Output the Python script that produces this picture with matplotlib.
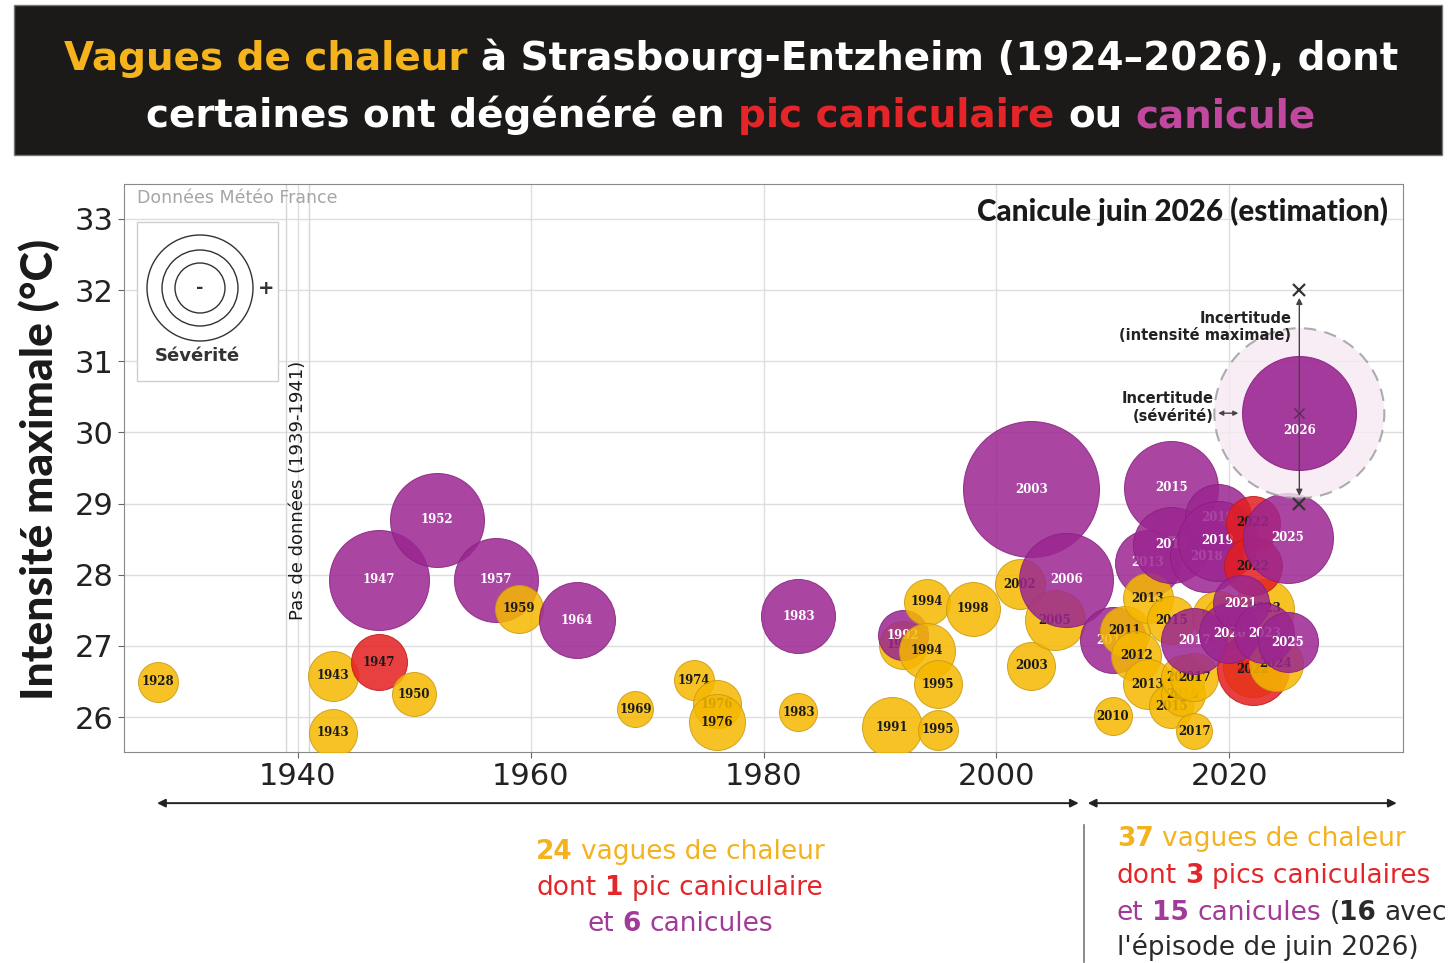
import matplotlib
matplotlib.use("Agg")
import matplotlib.pyplot as plt
from matplotlib.patches import Rectangle, Circle
from matplotlib.lines import Line2D

# Données : année, intensité maximale (°C), sévérité (taille de bulle), type
# V = vague de chaleur, P = pic caniculaire, C = canicule
# (l'ordre de la liste est l'ordre de tracé)
annees = [1928, 1943, 1943, 1947, 1947, 1950, 1952, 1957, 1959, 1964,
          1969, 1974, 1976, 1976, 1983, 1983, 1991, 1992, 1992, 1994,
          1994, 1995, 1995, 1998, 2002, 2003, 2003, 2005, 2006, 2010,
          2010, 2011, 2012, 2013, 2013, 2013, 2015, 2015, 2015, 2015,
          2016, 2016, 2017, 2017, 2019, 2020, 2023, 2017, 2018, 2019,
          2019, 2022, 2022, 2022, 2022, 2024, 2020, 2021, 2023, 2025,
          2025]
intensite = [26.50, 26.58, 25.78, 27.93, 26.77, 26.32, 28.77, 27.93, 27.52, 27.36,
             26.11, 26.52, 26.18, 25.93, 27.42, 26.07, 25.86, 27.02, 27.15, 27.62,
             26.93, 26.46, 25.82, 27.52, 27.87, 29.20, 26.72, 27.36, 27.93, 27.08,
             26.01, 27.21, 26.86, 28.17, 27.67, 26.46, 29.22, 28.42, 27.36, 26.15,
             26.32, 26.56, 26.56, 25.80, 27.40, 27.33, 27.52, 27.07, 28.26, 28.81,
             28.48, 28.73, 28.12, 26.70, 26.67, 26.75, 27.18, 27.60, 27.18, 28.52,
             27.05]
severite = [20, 25, 24, 50, 28, 22, 47, 42, 24, 38,
            18, 20, 24, 28, 37, 19, 30, 24, 25, 23,
            28, 24, 20, 27, 25, 68, 24, 30, 47, 33,
            19, 25, 25, 33, 25, 25, 47, 38, 24, 22,
            22, 22, 24, 18, 26, 27, 30, 33, 36, 33,
            40, 27, 29, 30, 36, 27, 30, 28, 30, 45,
            30]
types = ["V", "V", "V", "C", "P", "V", "C", "C", "V", "C",
         "V", "V", "V", "V", "C", "V", "V", "V", "C", "V",
         "V", "V", "V", "V", "V", "C", "V", "V", "C", "C",
         "V", "V", "V", "C", "V", "V", "C", "C", "V", "V",
         "V", "V", "V", "V", "V", "V", "V", "C", "C", "C",
         "C", "P", "P", "V", "P", "V", "C", "C", "C", "C",
         "C"]

# estimation juin 2026
annee_2026 = 2026
intensite_2026 = 30.27
severite_2026 = 57
incertitude_sev = 85
incertitude_int = [29.0, 32.0]

couleurs = {"V": "#F5B800", "P": "#E41E1E", "C": "#9B2691"}
bords = {"V": "#C99A10", "P": "#C01818", "C": "#86207E"}
texte_bulle = {"V": "#1a1a1a", "P": "#1a1a1a", "C": "white"}

W, H = 1449, 963
fig = plt.figure(figsize=(W / 100, H / 100), dpi=100)
ax = fig.add_axes([124 / W, 1 - 752 / H, 1279 / W, 568 / H])

etroit = ["Lato", "DejaVu Sans"]


def s_bulle(r):
    # rayon en pixels -> aire en points^2
    return (2 * r * 0.72) ** 2


for i, (a, t, r, k) in enumerate(zip(annees, intensite, severite, types)):
    ax.scatter(a, t, s=s_bulle(r), color=couleurs[k], alpha=0.85,
               edgecolor=bords[k], linewidth=0.7, zorder=3 + 2 * i)
    ax.text(a, t, str(a), ha="center", va="center", fontsize=8.5, family="DejaVu Serif",
            weight="bold", color=texte_bulle[k], zorder=4 + 2 * i)

# canicule juin 2026 (estimation)
z = 3 + 2 * len(annees)
ax.scatter(annee_2026, intensite_2026, s=s_bulle(incertitude_sev), color="#F7E8F3",
           alpha=0.8, edgecolor="#999999", linewidth=1.5, linestyle=(0, (6, 4)), zorder=z)
ax.scatter(annee_2026, intensite_2026, s=s_bulle(severite_2026), color=couleurs["C"],
           alpha=0.9, edgecolor=bords["C"], linewidth=0.7, zorder=z + 1)
ax.plot(annee_2026, intensite_2026, marker="x", color="#5a2a5a", ms=7, zorder=z + 3)
ax.text(annee_2026, intensite_2026 - 0.24, str(annee_2026), ha="center", va="center",
        fontsize=8.5, family="DejaVu Serif", weight="bold", color="white", zorder=z + 2)
for yv in incertitude_int:
    ax.annotate("", xy=(annee_2026, yv + (0.07 if yv < intensite_2026 else -0.07)),
                xytext=(annee_2026, intensite_2026),
                arrowprops=dict(arrowstyle="-|>", color="#444444", lw=1, mutation_scale=9),
                zorder=z + 3)
    ax.plot(annee_2026, yv, marker="x", color="#333333", ms=9, mew=1.6, zorder=z + 3)
ax.annotate("", xy=(2021.0, intensite_2026), xytext=(2018.8, intensite_2026),
            arrowprops=dict(arrowstyle="<|-|>", color="#444444", lw=1, mutation_scale=7),
            zorder=z + 3)
ax.text(2025.3, 31.48, "Incertitude\n(intensité maximale)", ha="right", va="center",
        fontsize=10.5, weight="bold", color="#222222", linespacing=1.2, zorder=z + 4)
ax.text(2018.6, 30.35, "Incertitude\n(sévérité)", ha="right", va="center",
        fontsize=10.5, weight="bold", color="#222222", linespacing=1.2, zorder=z + 4)

# pas de données 1939-1941
ax.axvline(1939, color="#d6d6d6", lw=1, zorder=1)
ax.axvline(1941, color="#d6d6d6", lw=1, zorder=1)
ax.text(1940, 29.19, "Pas de données (1939-1941)", rotation=90, ha="center", va="center",
        fontsize=13, color="#1a1a1a", zorder=2)

ax.text(0.988, 0.951, "Canicule juin 2026 (estimation)", transform=ax.transAxes,
        ha="right", va="center", fontsize=21.3, weight="black", family=etroit, color="#1a1a1a")
ax.text(0.010, 0.975, "Données Météo France", transform=ax.transAxes,
        ha="left", va="center", fontsize=12.5, color="#a5a5a5")

ax.set_xlim(1925.1, 2034.9)
ax.set_ylim(25.51, 33.49)
ax.set_xticks([1940, 1960, 1980, 2000, 2020])
ax.set_yticks(range(26, 34))
ax.tick_params(labelsize=22, length=4, color="#666666", labelcolor="#222222")
ax.grid(color="#dedede", lw=1)
ax.set_axisbelow(True)
for sp in ax.spines.values():
    sp.set_color("#888888")
ax.set_ylabel("Intensité maximale (°C)", fontsize=32, weight="black", family=etroit,
              color="#1a1a1a")
ax.yaxis.set_label_coords(-0.050, 0.498)

# légende de sévérité
tr = fig.dpi_scale_trans
fig.add_artist(Rectangle((1.37, (H - 381) / 100), 1.41, 1.59, transform=tr,
                         facecolor="white", edgecolor="#cfcfcf", lw=1))
for rr in [0.25, 0.38, 0.53]:
    fig.add_artist(Circle((2.00, (H - 288) / 100), rr, transform=tr,
                          facecolor="none", edgecolor="#333333", lw=1.0))
fig.text(200 / W, 1 - 288 / H, "-", ha="center", va="center", fontsize=13, weight="bold", color="#333333")
fig.text(266 / W, 1 - 288 / H, "+", ha="center", va="center", fontsize=14, weight="bold", color="#333333")
fig.text(197 / W, 1 - 356 / H, "Sévérité", ha="center", va="center", fontsize=13, weight="bold", color="#333333")

# bandeau de titre
fig.add_artist(Rectangle((14 / W, 1 - 155 / H), 1428 / W, 150 / H, transform=fig.transFigure,
                         facecolor="#1c1a19", edgecolor="#777777", lw=1))

renderer = fig.canvas.get_renderer()


def largeur(s, size, weight):
    t = fig.text(0, 0, s, fontsize=size, weight=weight)
    w = t.get_window_extent(renderer).width
    t.remove()
    return w


def ligne(morceaux, x, y, ha, size):
    barres = {w: largeur("||", size, w) for _, _, w in morceaux}
    larg = [largeur("|" + s + "|", size, w) - barres[w] for s, _, w in morceaux]
    x0 = x - sum(larg) / 2 if ha == "center" else x
    for (s, c, w), lw_ in zip(morceaux, larg):
        tete = s[:len(s) - len(s.lstrip())]
        dx = largeur("|" + tete + "|", size, w) - barres[w]
        fig.text((x0 + dx) / W, 1 - y / H, s.strip(), fontsize=size, weight=w,
                 color=c, ha="left", va="baseline")
        x0 += lw_


jaune, rouge, violet = "#F4B21E", "#E2262A", "#A23A98"
ligne([("Vagues de chaleur", "#F6B41C", "bold"),
       (" à Strasbourg-Entzheim (1924–2026), dont", "white", "bold")], 731, 70, "center", 28)
ligne([("certaines ont dégénéré en ", "white", "bold"),
       ("pic caniculaire", "#E4262B", "bold"), (" ou ", "white", "bold"),
       ("canicule", "#C2489F", "bold")], 731, 127, "center", 28)

# flèches des périodes
ax.annotate("", xy=(2007.3, 0.166), xytext=(1927.7, 0.166), xycoords=("data", "figure fraction"),
            arrowprops=dict(arrowstyle="<|-|>", color="#222222", lw=1.4, mutation_scale=12),
            annotation_clip=False)
ax.annotate("", xy=(2034.6, 0.166), xytext=(2007.6, 0.166), xycoords=("data", "figure fraction"),
            arrowprops=dict(arrowstyle="<|-|>", color="#222222", lw=1.4, mutation_scale=12),
            annotation_clip=False)
fig.add_artist(Line2D([1084 / W, 1084 / W], [1 - 825 / H, 1 - 962 / H],
                      transform=fig.transFigure, color="#777777", lw=1.2))

fs = 19
ligne([("24", jaune, "bold"), (" vagues de chaleur", jaune, "normal")], 680, 859, "center", fs)
ligne([("dont ", rouge, "normal"), ("1", rouge, "bold"), (" pic caniculaire", rouge, "normal")],
      680, 895, "center", fs)
ligne([("et ", violet, "normal"), ("6", violet, "bold"), (" canicules", violet, "normal")],
      680, 931, "center", fs)

ligne([("37", jaune, "bold"), (" vagues de chaleur", jaune, "normal")], 1117, 846, "left", fs)
ligne([("dont ", rouge, "normal"), ("3", rouge, "bold"), (" pics caniculaires", rouge, "normal")],
      1117, 883, "left", fs)
ligne([("et ", violet, "normal"), ("15", violet, "bold"), (" canicules", violet, "normal"),
       (" (", "#2a2a2a", "normal"), ("16", "#2a2a2a", "bold"), (" avec", "#2a2a2a", "normal")],
      1117, 920, "left", fs)
ligne([("l'épisode de juin 2026)", "#2a2a2a", "normal")], 1117, 955, "left", fs)

fig.savefig("out.png", dpi=100)
